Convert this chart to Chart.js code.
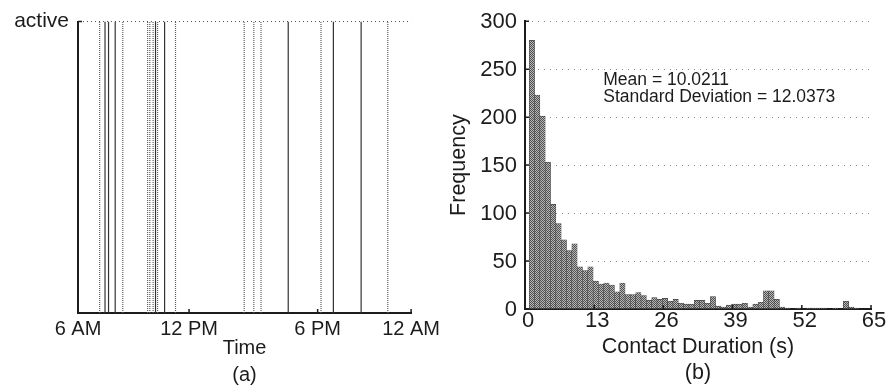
<!DOCTYPE html>
<html lang="en">
<head>
<meta charset="UTF-8">
<title>Contact activity and contact duration</title>
<script src="https://cdn.jsdelivr.net/npm/chart.js"></script>
<style>
  html, body { margin: 0; padding: 0; background: #fff; }
  #wrap { position: relative; width: 888px; height: 387px; }
  .panel { position: absolute; top: 0; width: 444px; height: 387px; }
  #panelA { left: 0; }
  #panelB { left: 444px; }
</style>
</head>
<body>
<div id="wrap">
  <div class="panel" id="panelA"><canvas id="chartA" width="444" height="387"></canvas></div>
  <div class="panel" id="panelB"><canvas id="chartB" width="444" height="387"></canvas></div>
</div>
<script>
// (a) moments the device was active, in hours of the day
const solidEvents = [7.46, 7.65, 8.01, 10.19, 10.68, 17.36, 19.80, 21.30];
const dottedEvents = [7.17, 8.42, 9.76, 9.88, 10.06, 10.30, 11.27, 14.98, 15.50, 15.89, 19.13, 22.74];
const timeTickValues = [6, 12, 18.95, 24];
const timeTickLabels = ['6 AM', '12 PM', '6 PM', '12 AM'];

// (b) histogram of contact durations (1 s bins)
const binStart = 0.8;
const binWidth = 1;
const counts = [280, 223, 201, 153, 109, 89, 72, 61, 68, 44,
                40, 44, 29, 26, 27, 25, 18, 27, 15, 15,
                17, 14, 9, 12, 10, 11, 8, 10, 6, 5,
                5, 9, 9, 6, 13, 3, 2, 4, 5, 5,
                6, 2, 5, 7, 19, 19, 10, 2, 1, 0,
                1, 0, 1, 1, 1, 1, 0, 1, 0, 8,
                2, 1];
const durationTicks = [0, 13, 26, 39, 52, 65];
const freqTicks = [0, 50, 100, 150, 200, 250, 300];
const statsLines = ['Mean = 10.0211', 'Standard Deviation = 12.0373'];

const FONT = '"Liberation Sans", Arial, Helvetica, sans-serif';
const INK = '#1c1c1c';
Chart.defaults.font.family = FONT;
Chart.defaults.color = INK;

// matlab style ticks that point into the plot
const inwardTicks = {
  id: 'inwardTicks',
  afterDraw(chart, args, opts) {
    const {ctx, scales: {x, y}} = chart;
    ctx.save();
    ctx.strokeStyle = INK;
    ctx.lineWidth = 1.5;
    ctx.beginPath();
    (opts.xTicks || []).forEach(v => {
      const px = x.getPixelForValue(v);
      ctx.moveTo(px, y.bottom);
      ctx.lineTo(px, y.bottom - opts.len);
    });
    (opts.yTicks || []).forEach(v => {
      const py = y.getPixelForValue(v);
      ctx.moveTo(x.left, py);
      ctx.lineTo(x.left + opts.len, py);
    });
    ctx.stroke();
    ctx.restore();
  }
};

const statsLabel = {
  id: 'statsLabel',
  afterDraw(chart, args, opts) {
    if (!opts.lines) return;
    const {ctx, scales: {x, y}} = chart;
    ctx.save();
    ctx.font = '17.5px ' + FONT;
    ctx.fillStyle = INK;
    ctx.textBaseline = 'alphabetic';
    opts.lines.forEach((t, i) => {
      ctx.fillText(t, x.getPixelForValue(opts.x), y.getPixelForValue(opts.y[i]));
    });
    ctx.restore();
  }
};

function toSegments(times) {
  const pts = [];
  times.forEach(t => {
    pts.push({x: t, y: 0}, {x: t, y: 1}, {x: t, y: null});
  });
  return pts;
}

function hatch() {
  const c = document.createElement('canvas');
  c.width = 2; c.height = 2;
  const g = c.getContext('2d');
  g.fillStyle = '#b8b8b8';
  g.fillRect(0, 0, 2, 2);
  g.fillStyle = '#505050';
  g.fillRect(0, 0, 1, 1);
  g.fillRect(1, 1, 1, 1);
  return g.createPattern(c, 'repeat');
}

// ---- panel (a)
new Chart(document.getElementById('chartA'), {
  type: 'line',
  data: {
    datasets: [
      {
        data: toSegments(dottedEvents),
        borderColor: '#5e5e5e',
        borderWidth: 1.2,
        borderDash: [1, 1],
        pointRadius: 0,
        spanGaps: false
      },
      {
        data: toSegments(solidEvents),
        borderColor: '#333',
        borderWidth: 1.2,
        pointRadius: 0,
        spanGaps: false
      }
    ]
  },
  options: {
    responsive: false,
    animation: false,
    layout: {padding: {left: 0, right: 17, top: 20, bottom: 0}},
    plugins: {
      legend: {display: false},
      tooltip: {enabled: false},
      inwardTicks: {xTicks: timeTickValues, yTicks: [1], len: 4}
    },
    scales: {
      x: {
        type: 'linear',
        min: 6,
        max: 24,
        afterBuildTicks: s => { s.ticks = timeTickValues.map(v => ({value: v})); },
        afterFit: s => { s.height = 74; },
        ticks: {
          callback: (v, i) => timeTickLabels[i],
          autoSkip: false,
          maxRotation: 0,
          padding: 4,
          font: {size: 20}
        },
        grid: {display: false, drawTicks: false},
        border: {color: INK, width: 2},
        title: {
          display: true,
          text: ['Time', '(a)'],
          font: {size: 20, lineHeight: 1.35},
          padding: {top: 0, bottom: -2}
        }
      },
      y: {
        min: 0,
        max: 1,
        afterBuildTicks: s => { s.ticks = [{value: 0}, {value: 1}]; },
        afterFit: s => { s.width = 78; },
        ticks: {
          callback: v => (v === 1 ? 'active' : ''),
          padding: 9,
          font: {size: 21}
        },
        grid: {
          drawTicks: false,
          lineWidth: 1,
          color: c => (c.tick && c.tick.value === 1 ? '#555' : 'rgba(0,0,0,0)')
        },
        border: {color: INK, width: 2, dash: [1, 3]}
      }
    }
  },
  plugins: [inwardTicks]
});

// ---- panel (b)
new Chart(document.getElementById('chartB'), {
  type: 'bar',
  data: {
    datasets: [{
      data: counts.map((c, i) => ({x: binStart + binWidth * (i + 0.5), y: c})),
      backgroundColor: hatch(),
      borderColor: '#454545',
      borderWidth: 0.6,
      barPercentage: 1,
      categoryPercentage: 1
    }]
  },
  options: {
    responsive: false,
    animation: false,
    layout: {padding: {left: 0, right: 17, top: 17, bottom: 0}},
    plugins: {
      legend: {display: false},
      tooltip: {enabled: false},
      inwardTicks: {xTicks: durationTicks, yTicks: freqTicks, len: 4},
      statsLabel: {lines: statsLines, x: 14.7, y: [233, 215.5]}
    },
    scales: {
      x: {
        type: 'linear',
        min: 0,
        max: 65,
        offset: false,
        afterBuildTicks: s => { s.ticks = durationTicks.map(v => ({value: v})); },
        afterFit: s => { s.height = 78; },
        ticks: {
          autoSkip: false,
          maxRotation: 0,
          padding: -1,
          labelOffset: 3,
          font: {size: 22}
        },
        grid: {display: false, drawTicks: false},
        border: {color: INK, width: 2},
        title: {
          display: true,
          text: ['Contact Duration (s)', '(b)'],
          font: {size: 21.5, lineHeight: 1.2},
          padding: {top: 0, bottom: 1}
        }
      },
      y: {
        min: 0,
        max: 300,
        afterBuildTicks: s => { s.ticks = freqTicks.map(v => ({value: v})); },
        afterFit: s => { s.width = 81; },
        ticks: {
          padding: 8,
          labelOffset: 1,
          font: {size: 22}
        },
        grid: {
          drawTicks: false,
          lineWidth: 1,
          color: c => (c.tick && c.tick.value === 0 ? 'rgba(0,0,0,0)' : '#8a8a8a')
        },
        border: {color: INK, width: 2, dash: [1, 5]},
        title: {
          display: true,
          text: 'Frequency',
          font: {size: 21.5},
          padding: {top: 2, bottom: 0}
        }
      }
    }
  },
  plugins: [inwardTicks, statsLabel]
});
</script>
</body>
</html>
